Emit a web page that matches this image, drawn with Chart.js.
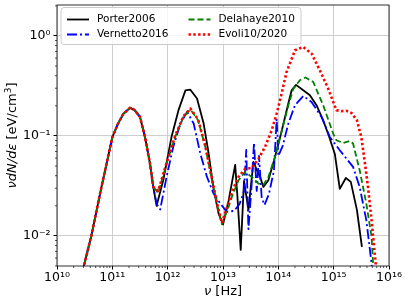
<!DOCTYPE html>
<html>
<head>
<meta charset="utf-8">
<script src="https://cdn.jsdelivr.net/npm/chart.js@4.4.1/dist/chart.umd.min.js"></script>
<style>
  html, body { margin:0; padding:0; background:#fff; }
</style>
</head>
<body>
<canvas id="sed" width="407" height="305"></canvas>
<script>
// frequencies in Hz, energy density nu dN/de in eV/cm^3
const lowNu = [2.82e10, 4.17e10, 6.31e10, 1.0e11, 1.26e11, 1.58e11, 2.09e11, 2.51e11, 3.16e11, 3.89e11, 4.79e11, 5.50e11];
const lowE  = [4.17e-3, 1.0e-2, 3.02e-2, 9.7e-2, 0.132, 0.166, 0.191, 0.182, 0.155, 0.0977, 0.053, 0.0309];

const porterNu = [6.31e11, 8.32e11, 1.175e12, 1.57e12, 2.09e12, 2.57e12, 3.39e12, 4.47e12, 5.5e12, 6.76e12, 8.32e12, 1.0e13,
  1.26e13, 1.66e13, 1.82e13, 2.09e13, 2.4e13, 2.88e13, 3.55e13, 4.07e13, 4.68e13, 5.37e13, 6.61e13, 8.71e13,
  1.15e14, 1.51e14, 1.74e14, 2.09e14, 2.82e14, 3.72e14, 4.9e14, 6.46e14, 8.32e14, 1.05e15, 1.29e15, 1.66e15,
  2.04e15, 2.63e15, 3.24e15];
const porterE = [0.020, 0.036, 0.098, 0.181, 0.285, 0.29, 0.237, 0.133, 0.0667, 0.0295, 0.0167, 0.013,
  0.0224, 0.0513, 0.0251, 0.00724, 0.0355, 0.0182, 0.055, 0.0457, 0.0389, 0.0309, 0.036, 0.0617,
  0.112, 0.21, 0.286, 0.324, 0.286, 0.255, 0.203, 0.1435, 0.0977, 0.066, 0.0295, 0.038,
  0.0347, 0.0182, 0.00776];

const vernettoNu = [6.31e11, 7.33e11, 9.55e11, 1.26e12, 1.70e12, 2.24e12, 2.95e12, 3.89e12, 5.13e12, 6.76e12, 8.91e12, 1.175e13,
  1.585e13, 2.0e13, 2.4e13, 2.63e13, 2.88e13, 3.24e13, 3.63e13, 4.07e13, 4.47e13, 5.01e13, 5.62e13, 6.76e13,
  8.32e13, 9.33e13, 1.0e14, 1.2e14, 1.51e14, 2.0e14, 2.82e14, 3.98e14, 6.03e14, 8.51e14, 1.29e15, 2.24e15,
  2.95e15, 3.89e15, 4.84e15, 5.01e15];
const vernettoE = [0.0209, 0.0184, 0.0389, 0.0776, 0.133, 0.174, 0.133, 0.0667, 0.0389, 0.0265, 0.0211, 0.0174,
  0.0178, 0.0209, 0.0282, 0.0724, 0.0117, 0.0282, 0.0851, 0.0282, 0.063, 0.024, 0.0204, 0.0263,
  0.0447, 0.148, 0.063, 0.0794, 0.132, 0.203, 0.251, 0.219, 0.155, 0.0977, 0.072, 0.049,
  0.0309, 0.0144, 0.0053, 0.00355];

const delahayeNu = [6.76e11, 9.55e11, 1.365e12, 1.93e12, 2.57e12, 3.55e12, 4.79e12, 6.17e12, 7.76e12, 9.55e12, 1.26e13, 1.445e13,
  1.905e13, 2.51e13, 3.31e13, 4.37e13, 5.37e13, 6.61e13, 8.71e13, 1.15e14, 1.51e14, 1.86e14, 2.45e14, 3.09e14,
  4.27e14, 6.46e14, 9.77e14, 1.12e15, 1.48e15, 1.95e15, 2.24e15, 2.95e15, 3.89e15, 4.84e15, 5.25e15];
const delahayeE = [0.0269, 0.053, 0.0977, 0.155, 0.184, 0.1435, 0.0776, 0.0389, 0.0211, 0.0131, 0.0195, 0.0245,
  0.036, 0.0437, 0.0389, 0.0334, 0.0324, 0.0389, 0.0617, 0.112, 0.2, 0.295, 0.361, 0.384,
  0.347, 0.203, 0.106, 0.0906, 0.0851, 0.0891, 0.0839, 0.0454, 0.0211, 0.00977, 0.00447];

const evoliNu = [6.76e11, 9.55e11, 1.365e12, 1.93e12, 2.57e12, 3.55e12, 4.79e12, 6.17e12, 7.76e12, 9.55e12, 1.445e13, 1.905e13,
  2.51e13, 3.31e13, 4.37e13, 5.75e13, 7.59e13, 9.33e13, 1.12e14, 1.41e14, 2.0e14, 2.82e14, 3.98e14, 5.62e14,
  7.94e14, 1.12e15, 1.38e15, 1.70e15, 2.09e15, 2.63e15, 3.16e15, 3.63e15, 4.17e15, 4.84e15, 5.75e15, 6.03e15];
const evoliE = [0.0282, 0.0537, 0.1, 0.158, 0.188, 0.146, 0.0794, 0.0398, 0.0214, 0.0135, 0.0275, 0.0389,
  0.0468, 0.0479, 0.0589, 0.0776, 0.114, 0.1675, 0.251, 0.437, 0.72, 0.776, 0.667, 0.454,
  0.298, 0.181, 0.177, 0.178, 0.17, 0.1435, 0.0977, 0.0562, 0.0309, 0.0144, 0.00525, 0.00355];

const xTicks = [1e10, 1e11, 1e12, 1e13, 1e14, 1e15, 1e16];
const xTickLabels = ['10¹⁰', '10¹¹', '10¹²', '10¹³', '10¹⁴', '10¹⁵', '10¹⁶'];
const yTicks = [1e-2, 1e-1, 1e0];
const yTickLabels = ['10⁻²', '10⁻¹', '10⁰'];

const FONT = '"DejaVu Sans", sans-serif';

function pts(nu, e) {
  return nu.map((x, i) => ({ x, y: e[i] }));
}

function drawRich(ctx, parts, x, y) {
  let w = 0;
  parts.forEach(p => { ctx.font = p.font; w += ctx.measureText(p.t).width; });
  let cx = x - w / 2;
  parts.forEach(p => {
    ctx.font = p.font;
    ctx.fillText(p.t, cx, y + (p.dy || 0));
    cx += ctx.measureText(p.t).width;
  });
}

const decor = {
  id: 'decor',
  afterDraw(chart) {
    const { ctx, chartArea: a, scales: { x, y } } = chart;
    ctx.save();
    // minor ticks
    ctx.strokeStyle = '#000';
    ctx.lineWidth = 0.7;
    ctx.beginPath();
    for (let d = 10; d < 16; d++) for (let m = 2; m <= 9; m++) {
      const px = x.getPixelForValue(m * Math.pow(10, d));
      ctx.moveTo(px, a.bottom); ctx.lineTo(px, a.bottom + 2);
    }
    for (let d = -3; d <= 0; d++) for (let m = 2; m <= 9; m++) {
      const v = m * Math.pow(10, d);
      if (v < y.min || v > y.max) continue;
      const py = y.getPixelForValue(v);
      ctx.moveTo(a.left, py); ctx.lineTo(a.left - 2, py);
    }
    ctx.stroke();
    // frame
    ctx.strokeStyle = '#1a1a1a';
    ctx.lineWidth = 0.9;
    ctx.strokeRect(a.left, a.top, a.right - a.left, a.bottom - a.top);

    // axis titles
    ctx.fillStyle = '#000';
    ctx.textBaseline = 'middle';
    const it = 'italic 13px ' + FONT, rm = '13px ' + FONT, sm = '9px ' + FONT;
    drawRich(ctx, [{ t: 'ν', font: it }, { t: ' [Hz]', font: rm }], (a.left + a.right) / 2, 292);
    ctx.translate(13, (a.top + a.bottom) / 2);
    ctx.rotate(-Math.PI / 2);
    drawRich(ctx, [{ t: 'νdN/dε', font: it }, { t: ' [eV/cm', font: rm }, { t: '3', font: sm, dy: -4.5 }, { t: ']', font: rm }], 0, 0);
    ctx.restore();

    // legend box
    ctx.save();
    const bx = 61, by = 7.5, bw = 240, bh = 37, r = 3;
    ctx.beginPath();
    ctx.moveTo(bx + r, by);
    ctx.arcTo(bx + bw, by, bx + bw, by + bh, r);
    ctx.arcTo(bx + bw, by + bh, bx, by + bh, r);
    ctx.arcTo(bx, by + bh, bx, by, r);
    ctx.arcTo(bx, by, bx + bw, by, r);
    ctx.closePath();
    ctx.fillStyle = 'rgba(255,255,255,0.8)';
    ctx.fill();
    ctx.strokeStyle = '#cccccc';
    ctx.lineWidth = 1;
    ctx.stroke();
    const slots = [[67, 19.5], [67, 34.5], [188.5, 19.5], [188.5, 34.5]];
    ctx.font = '10.5px ' + FONT;
    ctx.textBaseline = 'middle';
    chart.data.datasets.forEach((ds, i) => {
      const [lx, ly] = slots[i];
      ctx.beginPath();
      ctx.setLineDash(ds.borderDash || []);
      ctx.strokeStyle = ds.borderColor;
      ctx.lineWidth = ds.borderWidth;
      ctx.moveTo(lx, ly); ctx.lineTo(lx + 22, ly);
      ctx.stroke();
      ctx.setLineDash([]);
      ctx.fillStyle = '#000';
      ctx.fillText(ds.label, lx + 30, ly);
    });
    ctx.restore();
  }
};

new Chart(document.getElementById('sed'), {
  type: 'line',
  data: {
    datasets: [
      { label: 'Porter2006', data: pts(lowNu.concat(porterNu), lowE.concat(porterE)),
        borderColor: '#000000', borderWidth: 1.8, order: 4 },
      { label: 'Vernetto2016', data: pts(lowNu.concat(vernettoNu), lowE.concat(vernettoE)),
        borderColor: '#0000ff', borderWidth: 1.8, borderDash: [10, 3, 2, 3], order: 3 },
      { label: 'Delahaye2010', data: pts(lowNu.concat(delahayeNu), lowE.concat(delahayeE)),
        borderColor: '#008000', borderWidth: 1.8, borderDash: [6, 3], order: 2 },
      { label: 'Evoli10/2020', data: pts(lowNu.concat(evoliNu), lowE.concat(evoliE)),
        borderColor: '#ff0000', borderWidth: 2.6, borderDash: [2.4, 2.4], order: 1 }
    ]
  },
  options: {
    responsive: false,
    animation: false,
    layout: { padding: { left: 0, right: 18, top: 5, bottom: 0 } },
    elements: { point: { radius: 0 }, line: { tension: 0, borderCapStyle: 'butt', borderJoinStyle: 'round' } },
    plugins: { legend: { display: false }, tooltip: { enabled: false } },
    scales: {
      x: {
        type: 'logarithmic', min: 1e10, max: 1e16,
        afterBuildTicks: s => { s.ticks = xTicks.map(v => ({ value: v })); },
        afterFit: s => { s.height = 39; s.paddingLeft = 0; s.paddingRight = 0; },
        ticks: { callback: (v, i) => xTickLabels[i], color: '#000', font: { family: FONT, size: 12.5 },
                 padding: 1, maxRotation: 0, autoSkip: false },
        grid: { color: '#cfcfcf', lineWidth: 1, tickLength: 3.5, tickColor: '#000' },
        border: { display: false }
      },
      y: {
        type: 'logarithmic', min: 5.0e-3, max: 2.04,
        afterBuildTicks: s => { s.ticks = yTicks.map(v => ({ value: v })); },
        afterFit: s => { s.width = 57; s.paddingTop = 0; s.paddingBottom = 0; },
        ticks: { callback: (v, i) => yTickLabels[i], color: '#000', font: { family: FONT, size: 12.5 },
                 padding: 3, autoSkip: false },
        grid: { color: '#cfcfcf', lineWidth: 1, tickLength: 3.5, tickColor: '#000' },
        border: { display: false }
      }
    }
  },
  plugins: [decor]
});
</script>
</body>
</html>
